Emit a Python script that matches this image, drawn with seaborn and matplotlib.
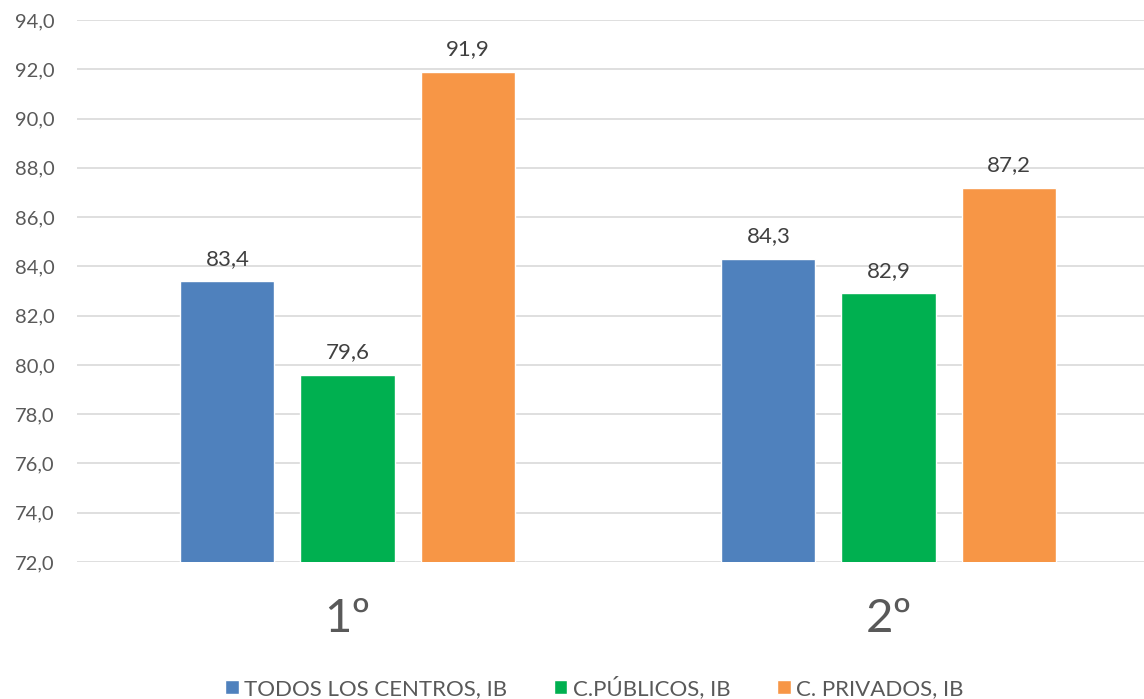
import pandas as pd
import numpy as np
import matplotlib.pyplot as plt
import seaborn as sns

cursos = ["1º", "2º"]
series = ["TODOS LOS CENTROS, IB", "C.PÚBLICOS, IB", "C. PRIVADOS, IB"]
todos = [83.4, 84.3]
publicos = [79.6, 82.9]
privados = [91.9, 87.2]
colores = ["#4F81BD", "#00B050", "#F79646"]
yticks = np.arange(72, 94.1, 2)

df = pd.DataFrame({
    "curso": cursos * 3,
    "serie": [s for s in series for _ in cursos],
    "valor": todos + publicos + privados,
})

sns.set_theme(style="white")
plt.rcParams['font.family'] = ['Lato', 'DejaVu Sans']
gris = "#595959"

fig = plt.figure(figsize=(11.44, 6.99), dpi=100)
ax = fig.add_axes([77 / 1144, 1 - 562 / 699, 1067 / 1144, 542 / 699])

sns.barplot(data=df, x="curso", y="valor", hue="serie", palette=colores,
            saturation=1, width=0.666, gap=0.217, ax=ax, legend=True, zorder=2)

ax.set_ylim(72, 94)
ax.set_xlim(-0.5, -0.5 + 1067 / 541)
ax.set_yticks(yticks)
ax.set_yticklabels([f"{v:.1f}".replace(".", ",") for v in yticks], fontsize=14.5, color=gris)
ax.tick_params(axis="y", length=0, pad=16)
ax.tick_params(axis="x", length=0, pad=26, labelsize=34, labelcolor=gris)
ax.yaxis.grid(True, color="#d9d9d9", linewidth=1.2, zorder=0)
ax.set_axisbelow(True)
for s in ax.spines.values():
    s.set_visible(False)
ax.set_xlabel("")
ax.set_ylabel("")

for cont in ax.containers:
    ax.bar_label(cont, labels=[f"{v:.1f}".replace(".", ",") for v in cont.datavalues],
                 padding=9, fontsize=16, color="#404040")

handles, labels = ax.get_legend_handles_labels()
ax.legend(handles, labels, loc="lower center", bbox_to_anchor=(0.485, -0.29),
          ncol=3, frameon=False, fontsize=16, handlelength=0.6, handleheight=0.6,
          handletextpad=0.25, columnspacing=2.1, labelcolor=gris)

plt.savefig("out.png", dpi=100)
